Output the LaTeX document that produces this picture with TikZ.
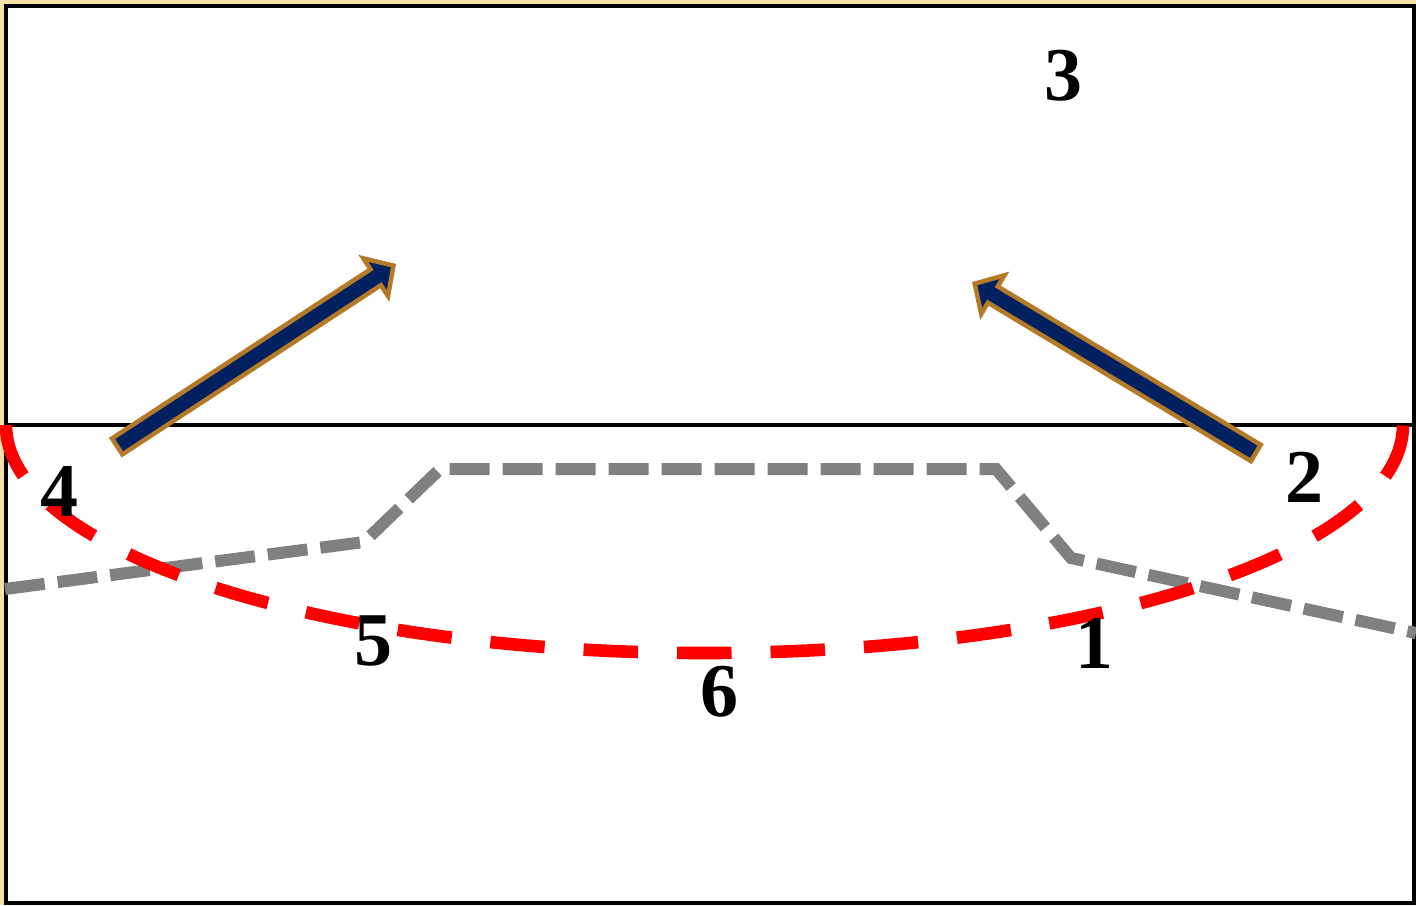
\documentclass[tikz,border=0pt]{standalone}
\usepackage{fontspec}
\setmainfont{Liberation Serif}
\definecolor{navy}{RGB}{0,32,96}
\definecolor{tanline}{RGB}{180,122,40}
\definecolor{glow}{RGB}{245,225,170}
\definecolor{redline}{RGB}{255,0,0}
\definecolor{grayline}{RGB}{128,128,128}
\tikzset{
  lbl/.style={font=\fontsize{38}{40}\selectfont\bfseries, inner sep=0pt, text=black},
  frameline/.style={draw=black, line width=2pt},
  fatarrow/.style={fill=navy, draw=tanline, line width=2.25pt, line join=miter},
  graydash/.style={draw=grayline, line width=6pt, dash pattern=on 20pt off 6.5pt},
  reddash/.style={draw=redline, line width=6.3pt, dash pattern=on 27.25pt off 19.5pt}
}
\begin{document}
\begin{tikzpicture}[x=0.5pt,y=-0.5pt]
\useasboundingbox (0,0) rectangle (1416,905);
\fill[white] (0,0) rectangle (1416,905);
% edge glow
\fill[glow] (0,0) rectangle (3.5,905);
\fill[glow] (0,0) rectangle (1416,3.5);
% frame
\coordinate (tl) at (5.5,5.5);
\coordinate (br) at (1413.5,902.5);
\draw[frameline] (tl) rectangle (br);
\coordinate (ml) at (5.5,425);
\coordinate (mr) at (1413.5,425);
\draw[frameline] (ml) -- (mr);
% gray dashed polyline
\coordinate (g0) at (5,589);
\coordinate (g1) at (364,542);
\coordinate (g2) at (440,469);
\coordinate (g3) at (996,469);
\coordinate (g4) at (1071,558);
\coordinate (g5) at (1416,633);
\draw[graydash] (g0) -- (g1) -- (g2) -- (g3) -- (g4) -- (g5);
% red dashed half ellipse
\coordinate (r0) at (6,425);
\coordinate (r1) at (704.5,653);
\coordinate (r2) at (1403,425);
\draw[reddash] (r0) .. controls (6,550.9) and (318.7,653) .. (r1)
  .. controls (1090.3,653) and (1403,550.9) .. (r2);
% arrows
\begin{scope}[shift={(115.5,447.5)}, rotate=33.2]
  \draw[fatarrow] (2,-9.5) -- (311,-9.5) -- (311,-22.5) -- (332.2,0)
     -- (311,22.5) -- (311,9.5) -- (2,9.5) -- cycle;
\end{scope}
\begin{scope}[shift={(1257.5,454)}, rotate=148.94]
  \draw[fatarrow] (2,-9.5) -- (309,-9.5) -- (309,-22.5) -- (330.2,0)
     -- (309,22.5) -- (309,9.5) -- (2,9.5) -- cycle;
\end{scope}
% labels
\node[lbl] (n3) at (1063,76) {3};
\node[lbl] (n4) at (59,491) {4};
\node[lbl] (n2) at (1304,477) {2};
\node[lbl] (n5) at (373,641) {5};
\node[lbl] (n1) at (1094,643) {1};
\node[lbl] (n6) at (719,692) {6};
\end{tikzpicture}
\end{document}
